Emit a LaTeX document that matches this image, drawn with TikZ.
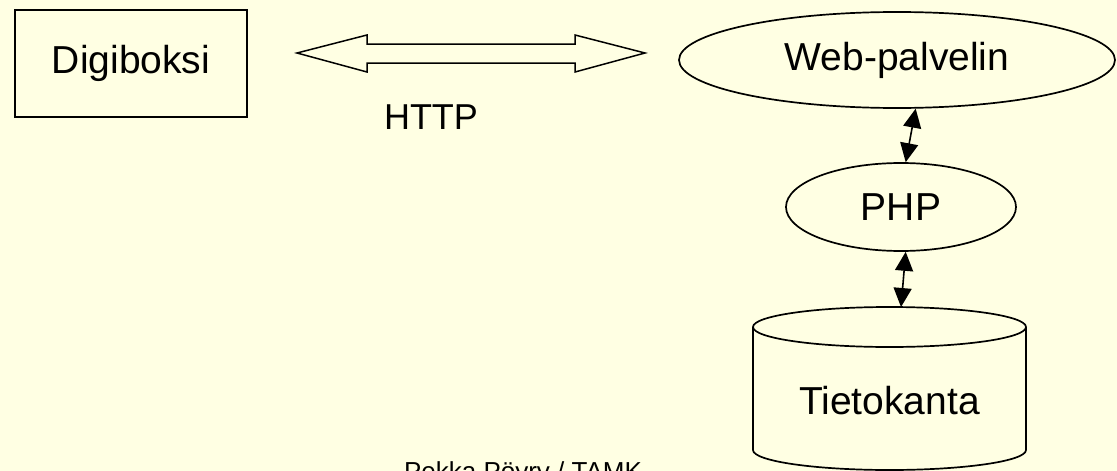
\documentclass[tikz,border=0pt]{standalone}
\usepackage{fontspec}
\setmainfont{Liberation Sans}
\usetikzlibrary{arrows.meta,shapes.geometric}
\definecolor{bg}{RGB}{255,255,227}
\begin{document}
\begin{tikzpicture}[x=1pt,y=-1pt,line width=1.7pt,
  lbl/.style={font=\fontsize{39}{46}\selectfont,inner sep=0pt},
  boxshape/.style={draw,inner sep=0pt},
  ellshape/.style={draw,ellipse,inner sep=0pt},
  dblarrow/.style={line width=1.6pt,{Triangle[length=19pt,width=18pt]}-{Triangle[length=19pt,width=18pt]}}]
\fill[bg] (0,0) rectangle (1117,471);
\useasboundingbox (0,0) rectangle (1117,471);
\clip (0,0) rectangle (1117,471);
% Digiboksi
\node[boxshape,lbl,minimum width=232pt,minimum height=107pt] (digi) at (131,63.5) {Digiboksi};
% HTTP fat double arrow
\draw[line width=1.5pt] (297,53) -- (367,35) -- (367,44) -- (575,44) -- (575,35) -- (645,53)
  -- (575,72) -- (575,63) -- (367,63) -- (367,72) -- cycle;
\node[lbl,font=\fontsize{36}{42}\selectfont] (http) at (431,117) {HTTP};
% Web server
\node[ellshape,lbl,minimum width=436pt,minimum height=96pt] (web) at (897,60) {Web-palvelin};
% PHP
\node[ellshape,lbl,minimum width=230pt,minimum height=88pt] (php) at (901,207) {PHP};
% Database cylinder
\draw (889.5,327) ellipse [x radius=136.5, y radius=20];
\draw (753,327) -- (753,450) .. controls (753,461.05) and (814.1,470) .. (889.5,470)
  .. controls (964.9,470) and (1026,461.05) .. (1026,450) -- (1026,327);
\coordinate (dbtop) at (901,307);
\node[lbl] (db) at (889.5,401) {Tietokanta};
% connectors
\draw[dblarrow] (web.-69) -- (php.84);
\draw[dblarrow] (php.-84) -- (dbtop);
% footer
\node[anchor=base,inner sep=0pt,font=\fontsize{26}{30}\selectfont] (footer) at (523,480) {Pekka Pöyry / TAMK};
\end{tikzpicture}
\end{document}
